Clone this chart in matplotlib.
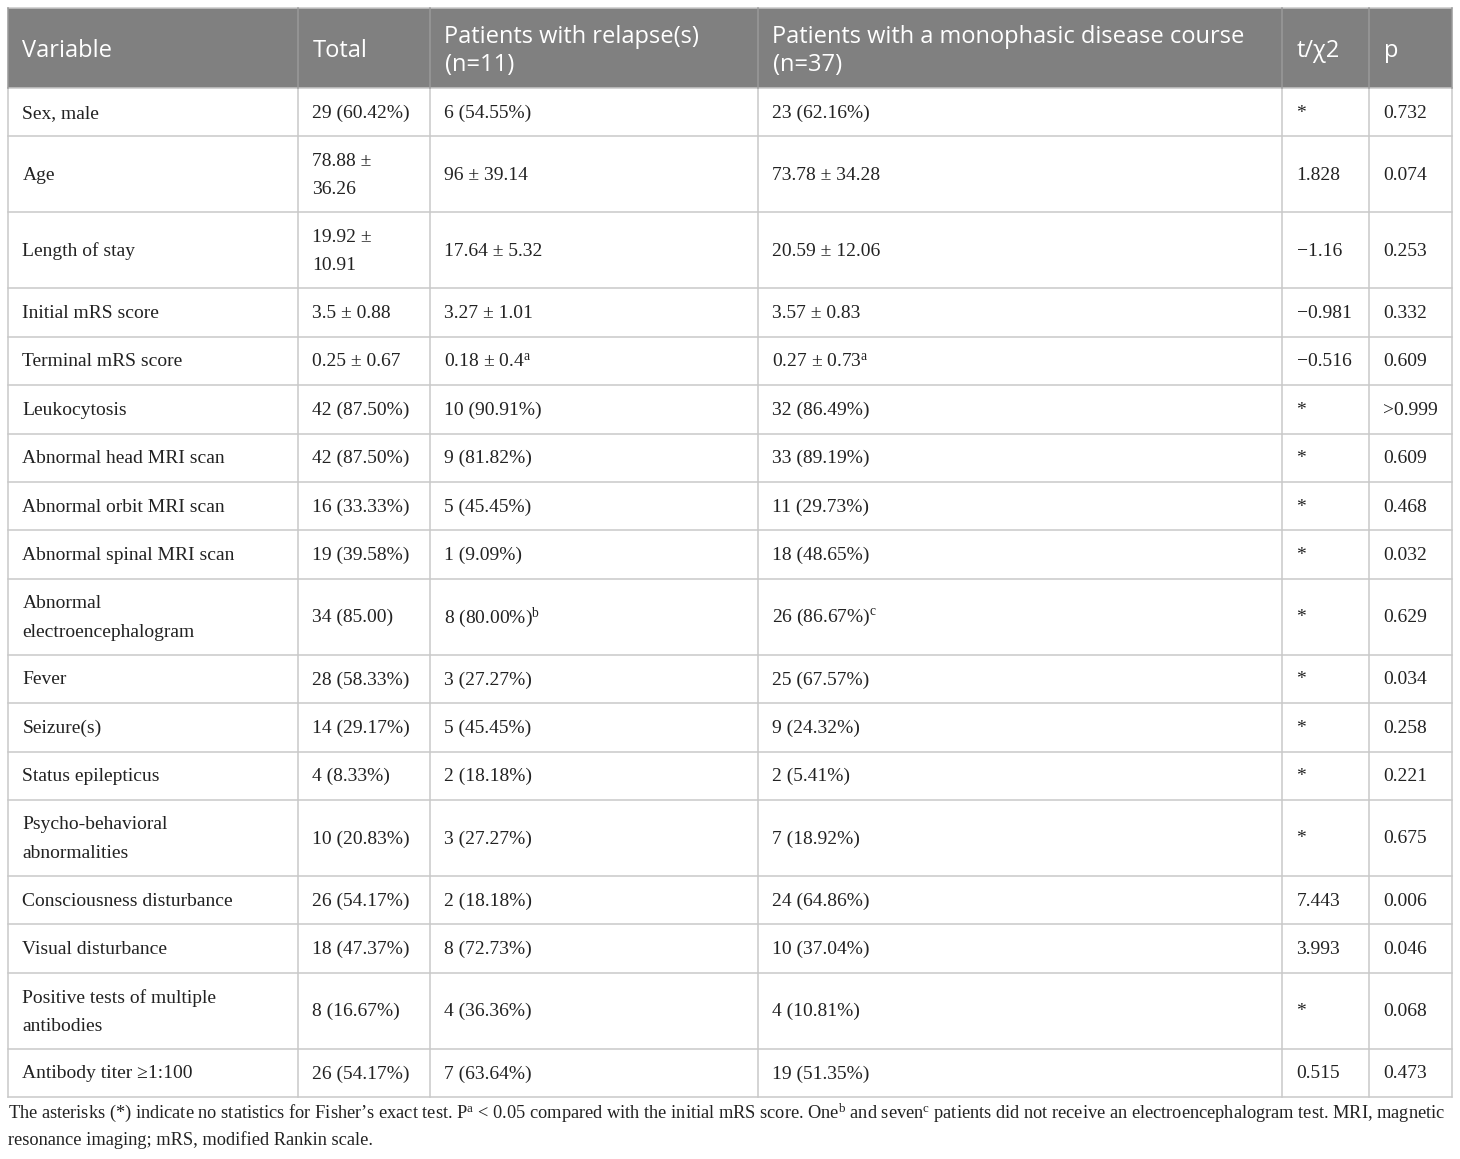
import matplotlib
matplotlib.use("Agg")
import matplotlib.pyplot as plt
from matplotlib.patches import Rectangle

plt.rcParams['mathtext.fontset'] = 'custom'
plt.rcParams['mathtext.rm'] = 'Liberation Serif'
plt.rcParams['mathtext.it'] = 'Liberation Serif:italic'

# ---- data ----
headers = ["Variable", "Total", "Patients with relapse(s)\n(n=11)",
           "Patients with a monophasic disease course\n(n=37)", "t/\u03c72", "p"]

variables = ["Sex, male", "Age", "Length of stay", "Initial mRS score", "Terminal mRS score",
             "Leukocytosis", "Abnormal head MRI scan", "Abnormal orbit MRI scan",
             "Abnormal spinal MRI scan", "Abnormal\nelectroencephalogram", "Fever", "Seizure(s)",
             "Status epilepticus", "Psycho-behavioral\nabnormalities", "Consciousness disturbance",
             "Visual disturbance", "Positive tests of multiple\nantibodies", "Antibody titer \u22651:100"]

total = ["29 (60.42%)", "78.88 \u00b1\n36.26", "19.92 \u00b1\n10.91", "3.5 \u00b1 0.88", "0.25 \u00b1 0.67",
         "42 (87.50%)", "42 (87.50%)", "16 (33.33%)", "19 (39.58%)", "34 (85.00)", "28 (58.33%)",
         "14 (29.17%)", "4 (8.33%)", "10 (20.83%)", "26 (54.17%)", "18 (47.37%)", "8 (16.67%)",
         "26 (54.17%)"]

relapse = ["6 (54.55%)", "96 \u00b1 39.14", "17.64 \u00b1 5.32", "3.27 \u00b1 1.01",
           "0.18 \u00b1 0.4$^{\\mathrm{a}}$", "10 (90.91%)", "9 (81.82%)", "5 (45.45%)", "1 (9.09%)",
           "8 (80.00%)$^{\\mathrm{b}}$", "3 (27.27%)", "5 (45.45%)", "2 (18.18%)", "3 (27.27%)",
           "2 (18.18%)", "8 (72.73%)", "4 (36.36%)", "7 (63.64%)"]

monophasic = ["23 (62.16%)", "73.78 \u00b1 34.28", "20.59 \u00b1 12.06", "3.57 \u00b1 0.83",
              "0.27 \u00b1 0.73$^{\\mathrm{a}}$", "32 (86.49%)", "33 (89.19%)", "11 (29.73%)",
              "18 (48.65%)", "26 (86.67%)$^{\\mathrm{c}}$", "25 (67.57%)", "9 (24.32%)", "2 (5.41%)",
              "7 (18.92%)", "24 (64.86%)", "10 (37.04%)", "4 (10.81%)", "19 (51.35%)"]

stat = ["*", "1.828", "\u22121.16", "\u22120.981", "\u22120.516", "*", "*", "*", "*", "*", "*", "*",
        "*", "*", "7.443", "3.993", "*", "0.515"]

pvals = ["0.732", "0.074", "0.253", "0.332", "0.609", ">0.999", "0.609", "0.468", "0.032", "0.629",
         "0.034", "0.258", "0.221", "0.675", "0.006", "0.046", "0.068", "0.473"]

footnote = ("The asterisks (*) indicate no statistics for Fisher\u2019s exact test. P$^{\\mathrm{a}}$ < 0.05 "
            "compared with the initial mRS score. One$^{\\mathrm{b}}$ and seven$^{\\mathrm{c}}$ patients did not "
            "receive an electroencephalogram test. MRI, magnetic\nresonance imaging; mRS, modified Rankin scale.")

# ---- layout ----
W, H = 1460, 1159
col_edges = [8, 298, 430, 758, 1282, 1369, 1452]
top = 7.5
header_h = 80.5
single_h = 48.4
double_h = 76.0
pad = 14.5
line_col = "#c9c9c9"

fig = plt.figure(figsize=(W / 100, H / 100), dpi=100)
ax = fig.add_axes([0, 0, 1, 1])
ax.set_xlim(0, W)
ax.set_ylim(H, 0)
ax.axis("off")

# header
ax.add_patch(Rectangle((col_edges[0], top), col_edges[-1] - col_edges[0], header_h,
                       facecolor="#808080", edgecolor="none", zorder=1))
for j, h in enumerate(headers):
    ax.text(col_edges[j] + pad, top + header_h / 2 + 3.5, h, color="white", fontsize=17,
            family="Open Sans", va="center", ha="left", linespacing=1.2, zorder=3)

columns = [variables, total, relapse, monophasic, stat, pvals]
y = top + header_h
row_lines = [top, y]
for i in range(len(variables)):
    multi = any("\n" in c[i] for c in columns)
    h = double_h if multi else single_h
    yc = y + h / 2
    for j, col in enumerate(columns):
        ax.text(col_edges[j] + pad, yc + 1, col[i], color="#222222", fontsize=14,
                family="Liberation Serif", va="center", ha="left", linespacing=1.88, zorder=3)
    y += h
    row_lines.append(y)

bottom = y
for ry in row_lines:
    ax.plot([col_edges[0], col_edges[-1]], [ry, ry], color=line_col, lw=1.1, zorder=2)
for cx in col_edges:
    ax.plot([cx, cx], [top + header_h, bottom], color=line_col, lw=1.1, zorder=2)
    ax.plot([cx, cx], [top, top + header_h], color="#9a9a9a", lw=1.1, zorder=2)

ax.text(col_edges[0], bottom + 28, footnote, color="#222222", fontsize=13.28,
        family="Liberation Serif", va="center", ha="left", linespacing=1.55, zorder=3)

fig.savefig("out.png", dpi=100, facecolor="white")
